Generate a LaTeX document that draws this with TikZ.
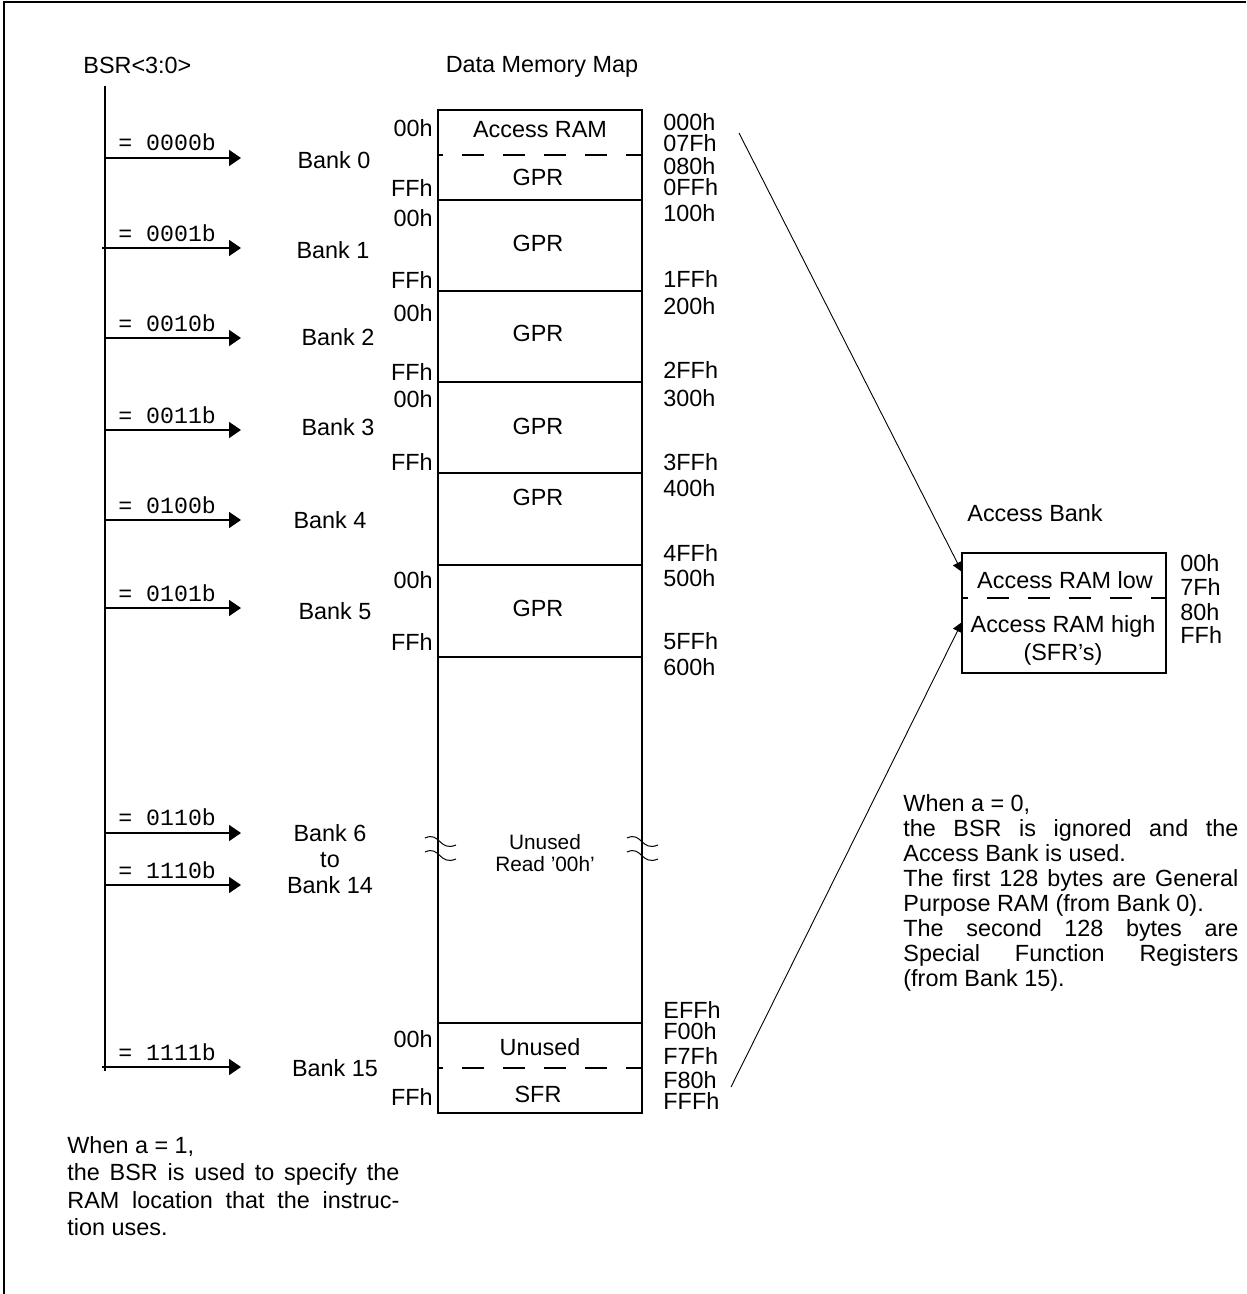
\documentclass[tikz,border=0pt]{standalone}
\usepackage{fontspec}
\setmainfont{Liberation Sans}
\setmonofont{Liberation Mono}
\usetikzlibrary{arrows.meta,positioning}

\tikzset{
  txt/.style={font=\fontsize{11.7}{13}\selectfont, inner sep=0pt},
  small/.style={font=\fontsize{10.4}{11}\selectfont, inner sep=0pt, align=center},
  sel/.style={font=\ttfamily\fontsize{11.6}{12}\selectfont, inner sep=0pt, anchor=west},
  addr/.style={txt, anchor=west},
  offs/.style={txt, anchor=east},
  membox/.style={draw, line width=1pt, minimum width=102pt, inner sep=0pt},
  halfline/.style={line width=0.8pt, dash pattern=on 11pt off 9.5pt, dash phase=8pt},
  busline/.style={draw, line width=0.9pt},
  selarrow/.style={draw, line width=0.85pt, -{Triangle[length=6pt,width=8pt]}},
  maparrow/.style={draw, line width=0.45pt, -{Triangle[length=5pt,width=5pt]}},
  brk/.style={line width=0.5pt},
  note/.style={txt, align=justify, anchor=north west}
}

\begin{document}
\begin{tikzpicture}[x=0.5pt,y=-0.5pt]
  \useasboundingbox (0,0) rectangle (1246,1294);
  \draw[line width=1.3pt] (4,1294) -- (4,2) -- (1246,2);

  % titles
  \node[txt, anchor=west] (bsr) at (83,65) {BSR<3:0>};
  \node[txt] (maptitle) at (542,67) {Data Memory Map};
  \node[txt, anchor=west] (abtitle) at (967,513) {Access Bank};

  % bank select bus
  \coordinate (bustop) at (105,86);
  \coordinate (busend) at (105,1071);
  \draw[busline] (bustop) -- (busend);

  \coordinate (s0) at (105,158);  \coordinate (e0) at (241,158);
  \coordinate (s1) at (102,248);  \coordinate (e1) at (241,248);
  \coordinate (s2) at (105,338);  \coordinate (e2) at (241,338);
  \coordinate (s3) at (105,430);  \coordinate (e3) at (241,430);
  \coordinate (s4) at (105,520);  \coordinate (e4) at (241,520);
  \coordinate (s5) at (105,608);  \coordinate (e5) at (241,608);
  \coordinate (s6) at (105,833);  \coordinate (e6) at (241,833);
  \coordinate (s14) at (105,885); \coordinate (e14) at (241,885);
  \coordinate (s15) at (102,1067); \coordinate (e15) at (241,1067);

  \draw[selarrow] (s0) -- (e0);
  \draw[selarrow] (s1) -- (e1);
  \draw[selarrow] (s2) -- (e2);
  \draw[selarrow] (s3) -- (e3);
  \draw[selarrow] (s4) -- (e4);
  \draw[selarrow] (s5) -- (e5);
  \draw[selarrow] (s6) -- (e6);
  \draw[selarrow] (s14) -- (e14);
  \draw[selarrow] (s15) -- (e15);

  \node[sel] (sel0) at (118,142) {= 0000b};
  \node[sel] (sel1) at (118,233) {= 0001b};
  \node[sel] (sel2) at (118,323) {= 0010b};
  \node[sel] (sel3) at (118,415) {= 0011b};
  \node[sel] (sel4) at (118,505) {= 0100b};
  \node[sel] (sel5) at (118,593) {= 0101b};
  \node[sel] (sel6) at (118,817) {= 0110b};
  \node[sel] (sel14) at (118,870) {= 1110b};
  \node[sel] (sel15) at (118,1052) {= 1111b};

  \node[txt] (bk0) at (334,160) {Bank 0};
  \node[txt] (bk1) at (333,250) {Bank 1};
  \node[txt] (bk2) at (338,337) {Bank 2};
  \node[txt] (bk3) at (338,427) {Bank 3};
  \node[txt] (bk4) at (330,520) {Bank 4};
  \node[txt] (bk5) at (335,611) {Bank 5};
  \node[txt, align=center, font=\fontsize{11.7}{13}\selectfont] (bk6) at (330,859) {Bank 6\\to\\Bank 14};
  \node[txt] (bk15) at (335,1068) {Bank 15};

  % data memory map
  \node[membox, minimum height=45pt] (bank0) at (540,155) {};
  \node[membox, minimum height=45.5pt] (bank1) at (540,245.5) {};
  \node[membox, minimum height=45.5pt] (bank2) at (540,336.5) {};
  \node[membox, minimum height=45.5pt] (bank3) at (540,427.5) {};
  \node[membox, minimum height=46pt] (bank4) at (540,519) {};
  \node[membox, minimum height=46pt] (bank5) at (540,611) {};
  \node[membox, minimum height=183pt] (unused) at (540,840) {};
  \node[membox, minimum height=45pt] (bank15) at (540,1068) {};
  \draw[halfline] (bank0.west) -- (bank0.east);
  \draw[halfline] (bank15.west) -- (bank15.east);

  \node[txt] (accram) at (540,130) {Access RAM};
  \node[txt] (gpr0) at (538,177) {GPR};
  \node[txt] (gpr1) at (538,243) {GPR};
  \node[txt] (gpr2) at (538,333) {GPR};
  \node[txt] (gpr3) at (538,426) {GPR};
  \node[txt] (gpr4) at (538,497) {GPR};
  \node[txt] (gpr5) at (538,608) {GPR};
  \node[small] (unusedtxt) at (545,853) {Unused\\Read ’00h’};
  \node[txt] (unused15) at (540,1047) {Unused};
  \node[txt] (sfr) at (538,1094) {SFR};

  % break marks
  \draw[brk] (425,838) .. controls (440,831) and (439,852) .. (456,845);
  \draw[brk] (425,852) .. controls (440,845) and (439,866) .. (456,859);
  \draw[brk] (627,838) .. controls (642,831) and (641,852) .. (658,845);
  \draw[brk] (627,852) .. controls (642,845) and (641,866) .. (658,859);

  % bank offsets
  \node[offs] at (433,128) {00h};
  \node[offs] at (433,188) {FFh};
  \node[offs] at (433,218) {00h};
  \node[offs] at (433,280) {FFh};
  \node[offs] at (433,313) {00h};
  \node[offs] at (433,372) {FFh};
  \node[offs] at (433,399) {00h};
  \node[offs] at (433,462) {FFh};
  \node[offs] at (433,580) {00h};
  \node[offs] at (433,642) {FFh};
  \node[offs] at (433,1039) {00h};
  \node[offs] at (433,1097) {FFh};

  % absolute addresses
  \node[addr] at (663,122) {000h};
  \node[addr] at (663,143) {07Fh};
  \node[addr] at (663,166) {080h};
  \node[addr] at (663,187) {0FFh};
  \node[addr] at (663,213) {100h};
  \node[addr] at (663,279) {1FFh};
  \node[addr] at (663,306) {200h};
  \node[addr] at (663,370) {2FFh};
  \node[addr] at (663,398) {300h};
  \node[addr] at (663,462) {3FFh};
  \node[addr] at (663,488) {400h};
  \node[addr] at (663,553) {4FFh};
  \node[addr] at (663,578) {500h};
  \node[addr] at (663,641) {5FFh};
  \node[addr] at (663,667) {600h};
  \node[addr] at (663,1010) {EFFh};
  \node[addr] at (663,1031) {F00h};
  \node[addr] at (663,1056) {F7Fh};
  \node[addr] at (663,1080) {F80h};
  \node[addr] at (663,1101) {FFFh};

  % access bank
  \node[membox, minimum height=60pt] (abank) at (1064,613) {};
  \draw[halfline] (962,598) -- (1166,598);
  \node[txt] (ablow) at (1065,580) {Access RAM low};
  \node[txt, align=center, font=\fontsize{11.7}{14}\selectfont] (abhigh) at (1063,640) {Access RAM high\\(SFR’s)};
  \node[addr] at (1180,563) {00h};
  \node[addr] at (1180,587) {7Fh};
  \node[addr] at (1180,612) {80h};
  \node[addr] at (1180,635) {FFh};

  \coordinate (ramtap) at (739,133);
  \coordinate (sfrtap) at (731,1087);
  \coordinate (lowin) at (962,572);
  \coordinate (highin) at (962,622);
  \draw[maparrow] (ramtap) -- (lowin);
  \draw[maparrow] (sfrtap) -- (highin);

  % notes
  \node[note, text width=167.5pt, font=\fontsize{11.7}{12.5}\selectfont] (note0) at (903,794)
    {\tolerance=10000 \hyphenpenalty=10000 When a = 0,\par
     the BSR is ignored and the\linebreak Access Bank is used.\par
     The first 128 bytes are General\linebreak Purpose RAM (from Bank 0).\par
     The second 128 bytes are\linebreak Special Function Registers\linebreak (from Bank 15).};
  \node[note, text width=166pt, font=\fontsize{11.7}{13.75}\selectfont] (note1) at (67,1136)
    {\tolerance=10000 \hyphenpenalty=10000 When a = 1,\par
     the BSR is used to specify the\linebreak RAM location that the instruc-\linebreak{}tion uses.};
\end{tikzpicture}
\end{document}
